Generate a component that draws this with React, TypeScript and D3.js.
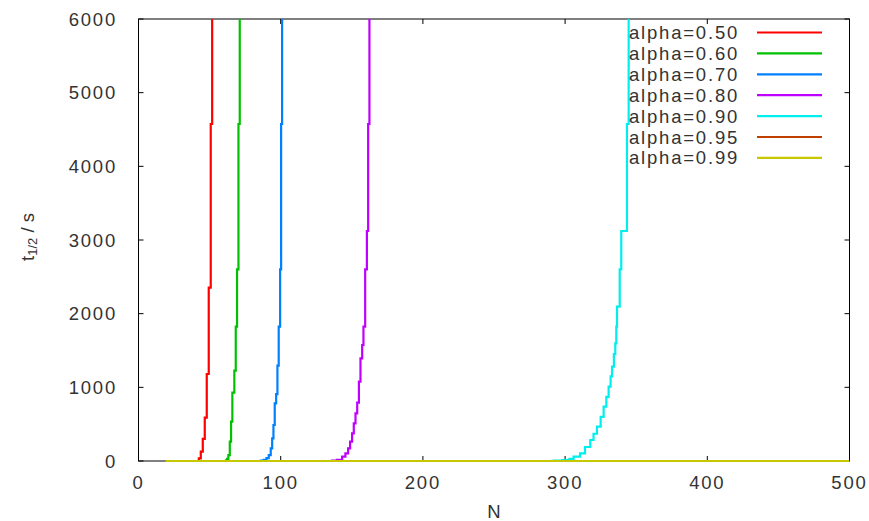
import React from "react";
import * as d3 from "d3";

// values (N, t_1/2 in s); last point of a rising curve is off the top
const alphaLabels = ["alpha=0.50", "alpha=0.60", "alpha=0.70", "alpha=0.80", "alpha=0.90", "alpha=0.95", "alpha=0.99"];
const colors = ["#ff0000", "#00c000", "#0080ff", "#c000ff", "#00eeee", "#c04000", "#c8c800"];

const n050 = [19, 41, 42.4, 43.8, 45.2, 46.6, 48.0, 49.4, 50.8, 51.8];
const t050 = [0, 0, 36, 127, 299, 588, 1181, 2353, 4575, 9000];

const n060 = [19, 60.5, 61.5, 62.3, 63.2, 64.2, 65.1, 66.0, 67.4, 68.4, 69.3, 70.3, 71.2];
const t060 = [0, 0, 10, 30, 81, 262, 534, 928, 1226, 1824, 2602, 4575, 9000];

const n070 = [19, 84, 86, 88, 90, 91.6, 93, 94.0, 94.9, 95.8, 96.8, 97.7, 98.6, 99.6, 100.3, 101];
const t070 = [0, 0, 5, 14, 40, 81, 172, 308, 489, 783, 909, 1294, 1824, 2602, 4575, 9000];

const n080 = [19, 133, 136, 139.5, 143.2, 145.5, 147.4, 148.8, 150.2, 151.4, 152.6, 153.8, 155, 156.1, 157.3, 158.2, 159.4, 160.6, 161.5, 162.4];
const t080 = [0, 0, 5, 14, 59, 104, 172, 262, 376, 511, 647, 792, 1077, 1394, 1575, 1824, 2602, 3122, 4575, 9000];

const n090 = [19, 284, 292, 298, 303, 306, 310.5, 314, 317.7, 320, 322.4, 325, 327.1, 329, 330.6, 332, 333, 334.3, 335.3, 336, 336.5, 338.4, 339.5, 343.5, 344.7];
const t090 = [0, 0, 4, 12, 30, 60, 104, 190, 285, 370, 466, 600, 737, 870, 1009, 1150, 1280, 1450, 1598, 1824, 2095, 2602, 3122, 4575, 9000];

const n095 = [19, 500];
const t095 = [0, 0];

const n099 = [19, 500];
const t099 = [0, 0];

const xTicks = [0, 100, 200, 300, 400, 500];
const yTicks = [0, 1000, 2000, 3000, 4000, 5000, 6000];

const seriesN = [n050, n060, n070, n080, n090, n095, n099];
const seriesT = [t050, t060, t070, t080, t090, t095, t099];

const W = 869, H = 521;
const left = 138.5, right = 849.5, top = 19, bottom = 461;
const font = "'Liberation Sans', Arial, sans-serif";
const textColor = "#333";

export default function App() {
  const x = d3.scaleLinear().domain([0, 500]).range([left, right]);
  const y = d3.scaleLinear().domain([0, 6000]).range([bottom, top]);
  const line = d3.line<[number, number]>()
    .x(d => x(d[0]))
    .y(d => y(d[1]))
    .curve(d3.curveStepAfter);

  const tick = 5;

  return (
    <svg width={W} height={H} style={{ position: "absolute", left: 0, top: 0, background: "#fff" }}>
      <defs>
        <clipPath id="plot">
          <rect x={left} y={top} width={right - left} height={bottom - top + 2} />
        </clipPath>
      </defs>
      <rect x={0} y={0} width={W} height={H} fill="#fff" />

      {/* frame and mirrored inward ticks */}
      <rect x={left} y={top} width={right - left} height={bottom - top} fill="none" stroke="#000" strokeWidth={1} />
      {yTicks.map(v => (
        <g key={"y" + v}>
          <line x1={left} x2={left + tick} y1={y(v)} y2={y(v)} stroke="#000" />
          <line x1={right} x2={right - tick} y1={y(v)} y2={y(v)} stroke="#000" />
          <text x={117} y={y(v)} textAnchor="end" dominantBaseline="central" fontFamily={font} fontSize={18.5} letterSpacing={1.8} fill={textColor}>{v}</text>
        </g>
      ))}
      {xTicks.map(v => (
        <g key={"x" + v}>
          <line x1={x(v)} x2={x(v)} y1={bottom} y2={bottom - tick} stroke="#000" />
          <line x1={x(v)} x2={x(v)} y1={top} y2={top + tick} stroke="#000" />
          <text x={x(v)} y={482} textAnchor="middle" dominantBaseline="central" fontFamily={font} fontSize={18.5} letterSpacing={1.8} fill={textColor}>{v}</text>
        </g>
      ))}

      <text x={(left + right) / 2} y={511} textAnchor="middle" dominantBaseline="central" fontFamily={font} fontSize={18.5} fill={textColor}>N</text>
      <text transform={`translate(27,237) rotate(-90)`} textAnchor="middle" dominantBaseline="central" fontFamily={font} fontSize={18.5} fill={textColor}>
        t<tspan fontSize={13} dy={5}>1/2</tspan><tspan dy={-5}> / s</tspan>
      </text>

      <g clipPath="url(#plot)">
        {seriesN.map((ns, i) => (
          <path key={i}
            d={line(ns.map((n, j) => [n, seriesT[i][j]] as [number, number])) || ""}
            fill="none" stroke={colors[i]} strokeWidth={2.2} />
        ))}
      </g>

      {alphaLabels.map((lab, i) => {
        const ly = 32.5 + i * 20.9;
        return (
          <g key={lab}>
            <text x={629} y={ly} dominantBaseline="central" fontFamily={font} fontSize={18.5} letterSpacing={1.8} fill={textColor}>{lab}</text>
            <line x1={757} x2={822} y1={ly} y2={ly} stroke={colors[i]} strokeWidth={2.2} />
          </g>
        );
      })}
    </svg>
  );
}
